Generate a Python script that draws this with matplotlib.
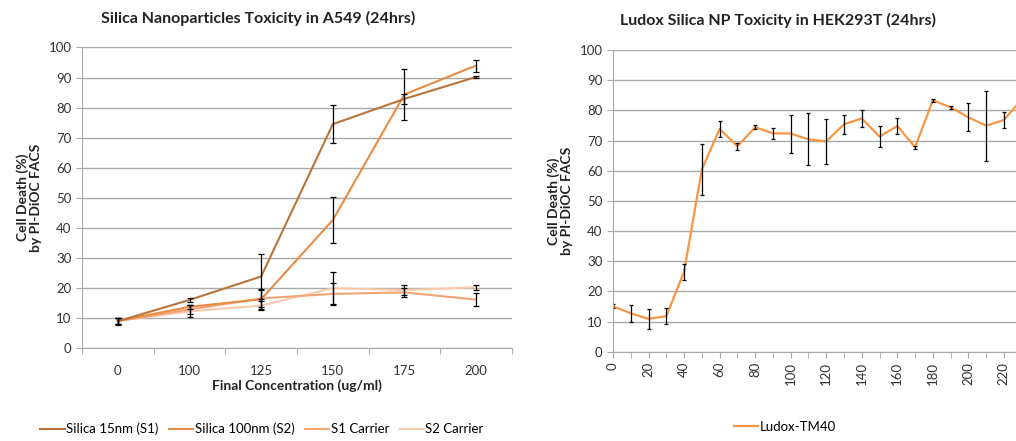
import numpy as np
import matplotlib
matplotlib.use('Agg')
import matplotlib.pyplot as plt

plt.rcParams['font.family'] = ['Lato', 'DejaVu Sans']

# left chart data (A549)
conc_labels = ['0', '100', '125', '150', '175', '200']
s1 = [8.9, 16.0, 23.8, 74.5, 82.9, 90.2]
s1_err = [1.2, 0.7, 7.5, 6.3, 1.7, 0.4]
s2 = [9.0, 13.7, 16.2, 42.6, 84.4, 94.0]
s2_err = [1.0, 0.6, 3.2, 7.8, 8.5, 2.0]
s1_carrier = [9.0, 12.8, 16.5, 18.0, 18.5, 16.1]
s1_carrier_err = [1.0, 1.5, 3.0, 3.6, 1.5, 2.1]
s2_carrier = [9.0, 12.2, 14.1, 19.9, 19.3, 20.2]
s2_carrier_err = [1.0, 2.0, 1.5, 5.3, 1.5, 0.8]

# right chart data (HEK293T)
ludox_conc = [0, 10, 20, 30, 40, 50, 60, 70, 80, 90, 100, 110, 120, 130, 140,
              150, 160, 170, 180, 190, 200, 210, 220, 230]
ludox = [15.1, 12.7, 10.9, 11.8, 26.5, 60.4, 73.8, 68.1, 74.4, 72.4, 72.3, 70.4,
         69.7, 75.4, 77.3, 71.3, 74.8, 67.8, 83.3, 81.0, 77.7, 74.9, 76.8, 83.6]
ludox_err = [0.6, 2.8, 3.4, 2.6, 2.6, 8.6, 2.8, 1.1, 0.6, 1.8, 6.3, 8.6,
             7.4, 3.1, 2.9, 3.4, 2.6, 0.5, 0.6, 0.6, 4.6, 11.6, 2.5, 2.5]

grid_c = '#a9a9a9'
text_c = '#222222'
W, H = 1016, 441
fig = plt.figure(figsize=(W / 100, H / 100), dpi=100)


def style_axis(ax):
    ax.set_ylim(0, 100)
    ax.set_yticks(np.arange(0, 101, 10))
    ax.yaxis.grid(True, color=grid_c, lw=1)
    ax.set_axisbelow(True)
    for s in ['top', 'right']:
        ax.spines[s].set_visible(False)
    for s in ['left', 'bottom']:
        ax.spines[s].set_color(grid_c)
    ax.tick_params(axis='both', colors=grid_c, labelcolor='#333333', labelsize=9.5, length=4, direction='out')
    ax.set_ylabel('Cell Death (%)\nby PI-DiOC FACS', fontsize=10, fontweight='bold', color=text_c,
                  labelpad=5, linespacing=1.05)


# left chart
ax1 = fig.add_axes([82 / W, 1 - 348 / H, 430 / W, 300.5 / H])
style_axis(ax1)
x = np.arange(len(conc_labels))
series = [
    (s1, s1_err, '#b8743a', 'Silica 15nm (S1)'),
    (s2, s2_err, '#e88c45', 'Silica 100nm (S2)'),
    (s1_carrier, s1_carrier_err, '#f3a477', 'S1 Carrier'),
    (s2_carrier, s2_carrier_err, '#f8c9ab', 'S2 Carrier'),
]
for vals, err, col, lab in series[::-1]:
    ax1.plot(x, vals, color=col, lw=1.5, label=lab)
for vals, err, col, lab in series:
    ax1.errorbar(x, vals, yerr=err, fmt='none', ecolor='black', elinewidth=0.9, capsize=2.4, capthick=0.9)
ax1.set_xlim(-0.5, len(conc_labels) - 0.5)
ax1.set_xticks(np.arange(-0.5, len(conc_labels)), minor=False)
ax1.set_xticklabels([])
ax1.set_xticks(x, minor=True)
ax1.set_xticklabels(conc_labels, minor=True)
ax1.tick_params(axis='x', which='minor', length=0, labelsize=9.5, labelcolor='#333333', pad=12)
ax1.set_xlabel('Final Concentration (ug/ml)', fontsize=10, fontweight='bold', color=text_c, labelpad=2)
fig.text(258.5 / W, 1 - 18 / H, 'Silica Nanoparticles Toxicity in A549 (24hrs)', fontsize=11.5,
         fontweight='bold', color=text_c, ha='center', va='center')

handles, labels = ax1.get_legend_handles_labels()
fig.legend(handles[::-1], labels[::-1], loc='center', bbox_to_anchor=(262 / W, 1 - 429 / H), ncol=4,
           frameon=False, fontsize=9.5, handlelength=1.85, handletextpad=0.1, columnspacing=0.8)

# right chart
ax2 = fig.add_axes([613 / W, 1 - 351.7 / H, 403 / W, 301.7 / H])
style_axis(ax2)
ax2.plot(ludox_conc, ludox, color='#f79646', lw=1.6, label='Ludox-TM40')
ax2.errorbar(ludox_conc, ludox, yerr=ludox_err, fmt='none', ecolor='black', elinewidth=0.9,
             capsize=1.7, capthick=0.9)
ax2.set_xlim(0, 226.8)
ax2.set_xticks(np.arange(0, 221, 20))
ax2.set_xticks(np.arange(10, 221, 20), minor=True)
ax2.tick_params(axis='x', which='both', colors=grid_c, length=4)
ax2.tick_params(axis='x', labelrotation=90, labelcolor='#333333', labelsize=9.5)
fig.text(778 / W, 1 - 20 / H, 'Ludox Silica NP Toxicity in HEK293T (24hrs)', fontsize=11.5,
         fontweight='bold', color=text_c, ha='center', va='center')
fig.legend(*ax2.get_legend_handles_labels(), loc='center', bbox_to_anchor=(785 / W, 1 - 427 / H),
           frameon=False, fontsize=9.5, handlelength=1.85, handletextpad=0.1)

fig.savefig('out.png', dpi=100)
